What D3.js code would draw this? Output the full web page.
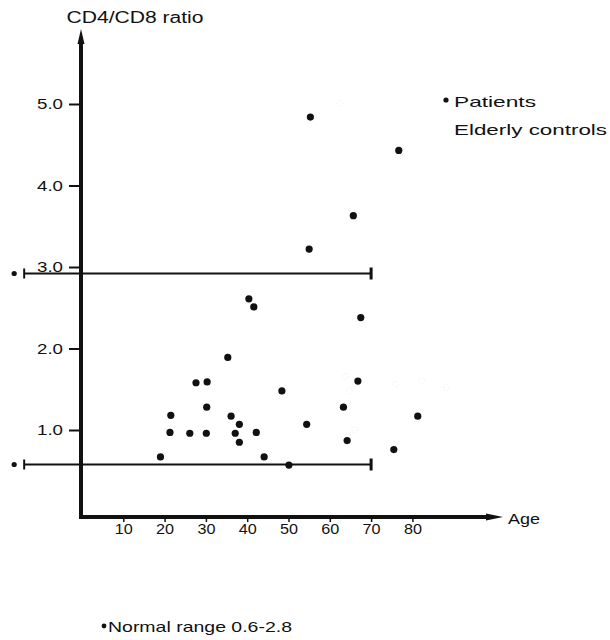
<!DOCTYPE html>
<html>
<head>
<meta charset="utf-8">
<script src="https://cdn.jsdelivr.net/npm/d3@7"></script>
<style>
  html, body { margin: 0; padding: 0; background: #fff; }
  svg { display: block; }
  text { font-family: "Liberation Sans", Arial, sans-serif; fill: #111; }
</style>
</head>
<body>
<svg id="chart" width="610" height="640"></svg>
<script>
// ---- data ----
const patientAges   = [40.4, 41.6, 67.5, 35.3, 27.6, 30.3, 66.8, 48.4, 30.2, 63.3, 21.5, 36.1, 38.1, 54.4, 21.3, 26.1, 30.1, 37.1, 42.2, 38.1, 64.2, 75.5, 19.0, 44.1, 50.1, 55.3, 76.7, 65.7, 55.0, 81.3];
const patientRatios = [2.61, 2.51, 2.38, 1.89, 1.58, 1.59, 1.60, 1.48, 1.28, 1.28, 1.18, 1.17, 1.07, 1.07, 0.97, 0.96, 0.96, 0.96, 0.97, 0.85, 0.87, 0.76, 0.67, 0.67, 0.57, 4.84, 4.43, 3.63, 3.22, 1.17];
const controlAges   = [63.9, 64.7, 66.0, 75.9, 82.3, 88.2, 62.5];
const controlRatios = [1.66, 1.48, 1.00, 1.56, 1.61, 1.52, 5.01];
const yTicks = [1, 2, 3, 4, 5];
const xTicks = [10, 20, 30, 40, 50, 60, 70, 80];
const normalRange = [0.58, 2.93];
const rangeAgeSpan = [-14, 70];
const yLabel = "CD4/CD8 ratio";
const xLabel = "Age";
const legendItems = ["Patients", "Elderly controls"];
const footnote = "Normal range 0.6-2.8";

// ---- scales ----
const svg = d3.select("#chart");
const x = d3.scaleLinear().domain([0, 80]).range([82, 412.4]);
const y = d3.scaleLinear().domain([1, 5]).range([430, 104]);
const axisY0 = 517;
const axisX0 = x(0) - 1;
const FONT = '"Liberation Sans", Arial, sans-serif';

function label(xp, yp, txt, len, size) {
  return svg.append("text").attr("x", xp).attr("y", yp).attr("font-size", size || 15)
    .attr("textLength", len).attr("lengthAdjust", "spacingAndGlyphs").text(txt);
}

// ---- normal range lines ----
normalRange.forEach(v => {
  const yy = Math.round(y(v)) + 0.5;
  const x1 = x(rangeAgeSpan[0]), x2 = x(rangeAgeSpan[1]);
  svg.append("line").attr("x1", x1).attr("x2", x2).attr("y1", yy).attr("y2", yy)
    .attr("stroke", "#111").attr("stroke-width", 2);
  svg.append("line").attr("x1", x1).attr("x2", x1).attr("y1", yy - 5).attr("y2", yy + 5)
    .attr("stroke", "#111").attr("stroke-width", 2);
  svg.append("line").attr("x1", x2).attr("x2", x2).attr("y1", yy - 6).attr("y2", yy + 6)
    .attr("stroke", "#111").attr("stroke-width", 3);
  svg.append("circle").attr("cx", x1 - 10).attr("cy", yy).attr("r", 2.6).attr("fill", "#111");
});

// ---- y axis ----
const yAxis = d3.axisLeft(y).tickValues(yTicks).tickFormat(d3.format(".1f"))
  .tickSize(12).tickPadding(6);
const gy = svg.append("g").attr("transform", `translate(${axisX0},0)`).call(yAxis);
gy.select(".domain").remove();
gy.selectAll(".tick line").attr("stroke", "#111").attr("stroke-width", 2);
gy.selectAll(".tick text").attr("font-size", 15).style("font-family", FONT).attr("fill", "#111")
  .attr("textLength", 26).attr("lengthAdjust", "spacingAndGlyphs");
svg.append("line").attr("x1", axisX0).attr("x2", axisX0).attr("y1", axisY0 + 1).attr("y2", 40)
  .attr("stroke", "#111").attr("stroke-width", 4);
svg.append("path")
  .attr("d", `M${axisX0 - 3.5},44 L${axisX0},29 L${axisX0 + 3.5},44 Z`).attr("fill", "#111");
label(66.5, 23, yLabel, 137, 16);

// ---- x axis ----
const xAxis = d3.axisBottom(x).tickValues(xTicks).tickFormat(d3.format("d"))
  .tickSize(5).tickPadding(1);
const gx = svg.append("g").attr("transform", `translate(0,${axisY0})`).call(xAxis);
gx.select(".domain").remove();
gx.selectAll(".tick line").attr("stroke", "#111").attr("stroke-width", 1.5);
gx.selectAll(".tick text").attr("font-size", 15).style("font-family", FONT).attr("fill", "#111")
  .attr("textLength", 18).attr("lengthAdjust", "spacingAndGlyphs");
svg.append("line").attr("x1", axisX0 - 2).attr("x2", 488).attr("y1", axisY0).attr("y2", axisY0)
  .attr("stroke", "#111").attr("stroke-width", 4);
svg.append("path")
  .attr("d", `M486,${axisY0 - 3.5} L503,${axisY0} L486,${axisY0 + 3.5} Z`).attr("fill", "#111");
label(508, axisY0 + 7, xLabel, 32, 15);

// ---- elderly controls (nearly invisible in reference) ----
svg.append("g").selectAll("circle").data(controlAges).join("circle")
  .attr("cx", d => x(d)).attr("cy", (d, i) => y(controlRatios[i]))
  .attr("r", 3).attr("fill", "none").attr("stroke", "#ececec").attr("stroke-width", 1)
  .attr("stroke-dasharray", "1,2");

// ---- patients ----
svg.append("g").selectAll("circle").data(patientAges).join("circle")
  .attr("cx", d => x(d)).attr("cy", (d, i) => y(patientRatios[i]))
  .attr("r", 3.6).attr("fill", "#111");

// ---- legend ----
svg.append("circle").attr("cx", 446).attr("cy", 100).attr("r", 2.6).attr("fill", "#111");
label(454, 107, legendItems[0], 82, 15);
label(454, 135, legendItems[1], 153, 15);

// ---- footnote ----
svg.append("circle").attr("cx", 104).attr("cy", 626).attr("r", 2.4).attr("fill", "#111");
label(108, 632, footnote, 184, 15);
</script>
</body>
</html>
